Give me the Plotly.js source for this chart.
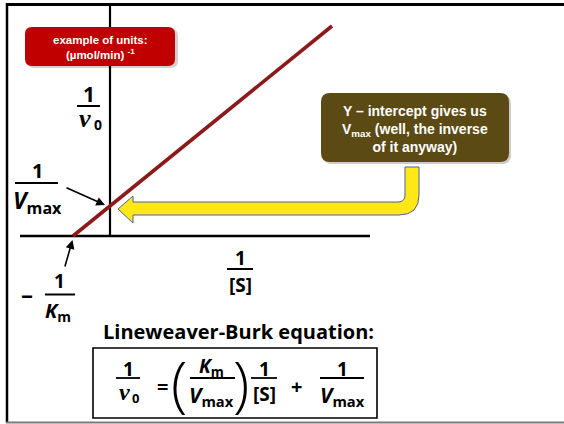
<!DOCTYPE html>
<html>
<head>
<meta charset="utf-8">
<script src="https://cdn.plot.ly/plotly-3.0.1.min.js"></script>
<style>
  html, body { margin: 0; padding: 0; background: #fff; overflow: hidden; }
  #chart { width: 564px; height: 424px; }
</style>
</head>
<body>
<div id="chart"></div>
<script>
// Lineweaver-Burk double-reciprocal plot: 1/v0 against 1/[S]
const invS  = [-0.5, 3.0];   // 1/[S]: the x-intercept (-1/Km) and the last plotted point
const invV0 = [0, 2.8];      // 1/v0 at those two points

// page geometry (pixels) and helpers to place decorations in paper units
const W = 564, H = 424;
const X = x => x / W;
const Y = y => 1 - y / H;
const P = (x, y) => `${X(x)},${Y(y)}`;

// axis scaling: origin at pixel (110, 236), 74 px per x unit, 75 px per y unit
const ORIGIN = [110, 236], SX = 74, SY = 75;
const xRange = [-ORIGIN[0] / SX, (W - ORIGIN[0]) / SX];
const yRange = [(ORIGIN[1] - H) / SY, ORIGIN[1] / SY];

// drawn extents of the two axis lines (data units)
const AXIS_X_SPAN = [-90 / SX, 260 / SX];
const AXIS_Y_SPAN = [-1 / SY, 231 / SY];

const SANS = 'Open Sans, Liberation Sans, sans-serif';
const ARIAL = 'Liberation Sans, Arial, sans-serif';
const SERIF = 'Liberation Serif, DejaVu Serif, serif';

function label(x, y, text, size, o = {}) {
  return {
    xref: 'paper', yref: 'paper', x: X(x), y: Y(y), text: text,
    showarrow: false, xanchor: o.anchor || 'center', yanchor: 'middle',
    font: { family: o.family || SANS, size: size, color: o.color || '#000',
            weight: o.weight || 'bold', style: o.style || 'normal' }
  };
}
function pointer(tipX, tipY, ax, ay) {
  return {
    xref: 'paper', yref: 'paper', x: X(tipX), y: Y(tipY), text: '',
    showarrow: true, ax: ax, ay: ay, arrowhead: 2, arrowsize: 1.1,
    arrowwidth: 1.6, arrowcolor: '#000', standoff: 0
  };
}
function rule(x0, x1, y, w) {
  return { type: 'line', xref: 'paper', yref: 'paper', layer: 'above',
           x0: X(x0), x1: X(x1), y0: Y(y), y1: Y(y),
           line: { color: '#000', width: w || 2 } };
}
function roundRect(x0, y0, x1, y1, r) {
  return `M${P(x0 + r, y0)} L${P(x1 - r, y0)} Q${P(x1, y0)} ${P(x1, y0 + r)} ` +
         `L${P(x1, y1 - r)} Q${P(x1, y1)} ${P(x1 - r, y1)} L${P(x0 + r, y1)} ` +
         `Q${P(x0, y1)} ${P(x0, y1 - r)} L${P(x0, y0 + r)} Q${P(x0, y0)} ${P(x0 + r, y0)} Z`;
}
function pathShape(path, fill, lineColor, lineWidth, opacity) {
  return { type: 'path', xref: 'paper', yref: 'paper', layer: 'above', path: path,
           fillcolor: fill, opacity: opacity == null ? 1 : opacity,
           line: { color: lineColor || 'rgba(0,0,0,0)', width: lineWidth || 0 } };
}

// bent yellow arrow from the callout down and left to the y-intercept
const bentArrow =
  `M${P(118, 209)} L${P(133, 196)} L${P(133, 202)} L${P(398, 202)} ` +
  `Q${P(405, 202)} ${P(405, 195)} L${P(405, 167)} L${P(419, 167)} L${P(419, 195)} ` +
  `Q${P(419, 215)} ${P(399, 215)} L${P(133, 215)} L${P(133, 223)} Z`;

const shapes = [
  // axes
  { type: 'line', xref: 'x', yref: 'y', layer: 'below', x0: 0, x1: 0,
    y0: AXIS_Y_SPAN[0], y1: AXIS_Y_SPAN[1], line: { color: '#000', width: 2.2 } },
  { type: 'line', xref: 'x', yref: 'y', layer: 'below', x0: AXIS_X_SPAN[0], x1: AXIS_X_SPAN[1],
    y0: 0, y1: 0, line: { color: '#000', width: 2.4 } },
  // page frame
  { type: 'line', xref: 'paper', yref: 'paper', x0: X(6), x1: 1, y0: Y(4.5), y1: Y(4.5),
    line: { color: '#000', width: 3 } },
  { type: 'line', xref: 'paper', yref: 'paper', x0: X(7), x1: X(7), y0: Y(3), y1: Y(423),
    line: { color: '#000', width: 2.5 } },
  { type: 'line', xref: 'paper', yref: 'paper', x0: X(6), x1: 1, y0: Y(422.5), y1: Y(422.5),
    line: { color: '#7a7a7a', width: 2 } },
  // units tag
  pathShape(roundRect(27, 29, 178, 68, 7), '#000', null, 0, 0.18),
  pathShape(roundRect(25, 27, 175, 66, 7), '#C00000'),
  // callout
  pathShape(roundRect(323, 95, 511, 164, 9), '#000', null, 0, 0.2),
  pathShape(roundRect(321, 93, 509, 162, 9), '#5C4A15'),
  pathShape(bentArrow, '#FFE815', '#5060A0', 1),
  // equation frame
  { type: 'rect', xref: 'paper', yref: 'paper', layer: 'above',
    x0: X(93), x1: X(377), y0: Y(348), y1: Y(418), line: { color: '#000', width: 1.6 } },
  // fraction bars
  rule(77, 100, 106),           // 1/v0
  rule(15, 58, 183),            // 1/Vmax
  rule(45, 75, 294.5),          // 1/Km
  rule(227, 253, 269),          // 1/[S]
  rule(116, 140, 378, 1.8),     // equation: 1/v0
  rule(190, 235, 378, 1.8),     // Km/Vmax
  rule(251, 277, 378, 1.8),     // 1/[S]
  rule(320, 364, 378, 1.8)      // 1/Vmax
];

const annotations = [
  // units tag
  label(100, 47, 'example of units:<br>(µmol/min) <sup>-1</sup>', 11.5, { family: ARIAL, color: '#fff' }),
  // callout text
  label(415, 128.5, 'Y – intercept gives us<br>V<sub>max</sub> (well, the inverse<br>of it anyway)', 14,
        { family: ARIAL, color: '#fff' }),
  // y-axis title 1/v0
  label(89, 94, '1', 21),
  label(85, 118, 'ν', 26, { family: SERIF, style: 'italic' }),
  label(98, 125, '0', 14),
  // 1/Vmax
  label(37, 170, '1', 20),
  label(37, 201, '<i>V</i><sub>max</sub>', 23),
  pointer(105, 205, -40, -18),
  // -1/Km
  label(27, 293, '–', 24),
  label(59, 281, '1', 19),
  label(58, 311, '<i>K</i><sub>m</sub>', 20),
  pointer(72.5, 240, -8, 28),
  // x-axis title 1/[S]
  label(240, 258, '1', 19),
  label(240, 285, '[S]', 19),
  // equation heading
  label(239, 331, 'Lineweaver-Burk equation:', 20),
  // equation body
  label(128, 369, '1', 19),
  label(124, 392, 'ν', 24, { family: SERIF, style: 'italic' }),
  label(135, 398, '0', 13),
  label(162, 386, '=', 20),
  label(179, 383, '(', 60, { weight: 300 }),
  label(211, 367, '<i>K</i><sub>m</sub>', 19),
  label(211, 396, '<i>V</i><sub>max</sub>', 21),
  label(241, 383, ')', 60, { weight: 300 }),
  label(264, 369, '1', 19),
  label(264, 394, '[S]', 19),
  label(296, 386, '+', 20),
  label(342, 369, '1', 19),
  label(342, 396, '<i>V</i><sub>max</sub>', 21)
];

const traces = [{
  type: 'scatter', mode: 'lines', x: invS, y: invV0,
  line: { color: '#8B1A1A', width: 3.6 }, hoverinfo: 'skip', showlegend: false
}];

const layout = {
  width: W, height: H,
  margin: { l: 0, r: 0, t: 0, b: 0, pad: 0 },
  paper_bgcolor: '#fff', plot_bgcolor: '#fff',
  showlegend: false,
  xaxis: { range: xRange, visible: false, fixedrange: true },
  yaxis: { range: yRange, visible: false, fixedrange: true },
  shapes: shapes,
  annotations: annotations
};

Plotly.newPlot('chart', traces, layout, { staticPlot: true, displayModeBar: false });
</script>
</body>
</html>
